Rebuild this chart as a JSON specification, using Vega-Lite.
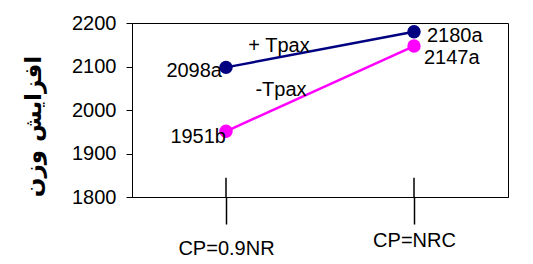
{
  "$schema": "https://vega.github.io/schema/vega-lite/v6.json",
  "width": 376,
  "height": 174,
  "autosize": "none",
  "padding": {"left": 132, "top": 23, "right": 25, "bottom": 67},
  "background": "white",
  "config": {
    "view": {"stroke": "black", "strokeWidth": 1},
    "font": "Liberation Sans",
    "axis": {"grid": false, "domainColor": "black", "tickColor": "black", "labelColor": "black", "labelFont": "Liberation Sans", "labelFontSize": 20}
  },
  "data": {
    "values": [
      {"cp": "CP=0.9NR", "series": "+ Tpax", "value": 2098, "label": "2098a", "pos": "l1"},
      {"cp": "CP=NRC", "series": "+ Tpax", "value": 2180, "label": "2180a", "pos": "r1"},
      {"cp": "CP=0.9NR", "series": "-Tpax", "value": 1951, "label": "1951b", "pos": "l2"},
      {"cp": "CP=NRC", "series": "-Tpax", "value": 2147, "label": "2147a", "pos": "r2"}
    ]
  },
  "encoding": {
    "x": {
      "field": "cp", "type": "nominal", "sort": ["CP=0.9NR", "CP=NRC"],
      "scale": {"type": "point", "padding": 0.5},
      "axis": {
        "title": null, "labelAngle": 0, "tickSize": 27, "tickWidth": 1.5,
        "labelPadding": {"condition": {"test": "datum.value == 'CP=NRC'", "value": 6}, "value": 14},
        "labelBaseline": "top"
      }
    },
    "y": {
      "field": "value", "type": "quantitative",
      "scale": {"domain": [1800, 2200], "nice": false, "zero": false},
      "axis": {
        "values": [1800, 1900, 2000, 2100, 2200], "format": "d", "tickSize": 6, "labelPadding": 10,
        "title": "افزایش وزن", "titleFont": "DejaVu Sans", "titleFontSize": 23, "titleFontWeight": "bold",
        "titleColor": "black", "titleX": -99, "titleY": 103, "titleAngle": -90, "titleBaseline": "middle", "titleAlign": "center"
      }
    },
    "color": {
      "field": "series", "type": "nominal", "legend": null,
      "scale": {"domain": ["+ Tpax", "-Tpax"], "range": ["#000080", "#FF00FF"]}
    }
  },
  "layer": [
    {"transform": [{"filter": "datum.series == '+ Tpax'"}], "mark": {"type": "rule", "strokeWidth": 1.5}, "encoding": {"y": {"datum": 1800}, "y2": {"datum": 1844}, "color": {"value": "black"}}},
    {"mark": {"type": "line", "strokeWidth": 2.5}},
    {"mark": {"type": "circle", "size": 180, "opacity": 1}},
    {"transform": [{"filter": "datum.pos == 'l1'"}], "mark": {"type": "text", "align": "right", "baseline": "middle", "dx": -4, "dy": 4, "fontSize": 20}, "encoding": {"text": {"field": "label"}, "color": {"value": "black"}}},
    {"transform": [{"filter": "datum.pos == 'l2'"}], "mark": {"type": "text", "align": "right", "baseline": "middle", "dx": 0, "dy": 6, "fontSize": 20}, "encoding": {"text": {"field": "label"}, "color": {"value": "black"}}},
    {"transform": [{"filter": "datum.pos == 'r1'"}], "mark": {"type": "text", "align": "left", "baseline": "middle", "dx": 13, "dy": 4, "fontSize": 20}, "encoding": {"text": {"field": "label"}, "color": {"value": "black"}}},
    {"transform": [{"filter": "datum.pos == 'r2'"}], "mark": {"type": "text", "align": "left", "baseline": "middle", "dx": 10, "dy": 12, "fontSize": 20}, "encoding": {"text": {"field": "label"}, "color": {"value": "black"}}},
    {"transform": [{"filter": "datum.pos == 'l1'"}], "mark": {"type": "text", "align": "center", "baseline": "middle", "dx": 53, "dy": -21, "fontSize": 20}, "encoding": {"text": {"field": "series"}, "color": {"value": "black"}}},
    {"transform": [{"filter": "datum.pos == 'l2'"}], "mark": {"type": "text", "align": "center", "baseline": "middle", "dx": 55, "dy": -41, "fontSize": 20}, "encoding": {"text": {"field": "series"}, "color": {"value": "black"}}}
  ]
}
